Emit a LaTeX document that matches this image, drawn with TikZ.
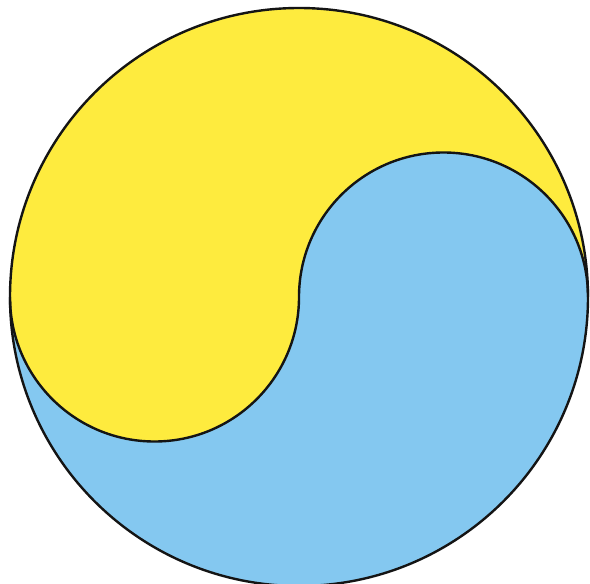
\documentclass[tikz,border=0pt]{standalone}
\usetikzlibrary{calc}
\definecolor{yyellow}{RGB}{254,235,62}
\definecolor{yblue}{RGB}{132,200,240}
\definecolor{yline}{RGB}{20,20,20}
\tikzset{
  outline/.style={draw=yline, line width=2.4pt},
}
\begin{document}
\begin{tikzpicture}[x=1pt,y=1pt]
\useasboundingbox (0,0) rectangle (590,-584);
\clip (0,0) rectangle (590,-584);
\fill[white] (0,0) rectangle (590,-584);
\coordinate (C) at (299,-297);
\coordinate (L) at (10,-297);
\coordinate (R) at (588,-297);
% blue disc
\fill[yblue] (C) circle[radius=289];
% yellow part
\fill[yyellow] (L) arc[start angle=180, end angle=0, radius=289]
  arc[start angle=0, end angle=180, radius=144.5]
  arc[start angle=0, end angle=-180, radius=144.5] -- cycle;
% outlines
\draw[outline] (C) circle[radius=289];
\draw[outline] (R) arc[start angle=0, end angle=180, radius=144.5]
  arc[start angle=0, end angle=-180, radius=144.5];
\end{tikzpicture}
\end{document}
